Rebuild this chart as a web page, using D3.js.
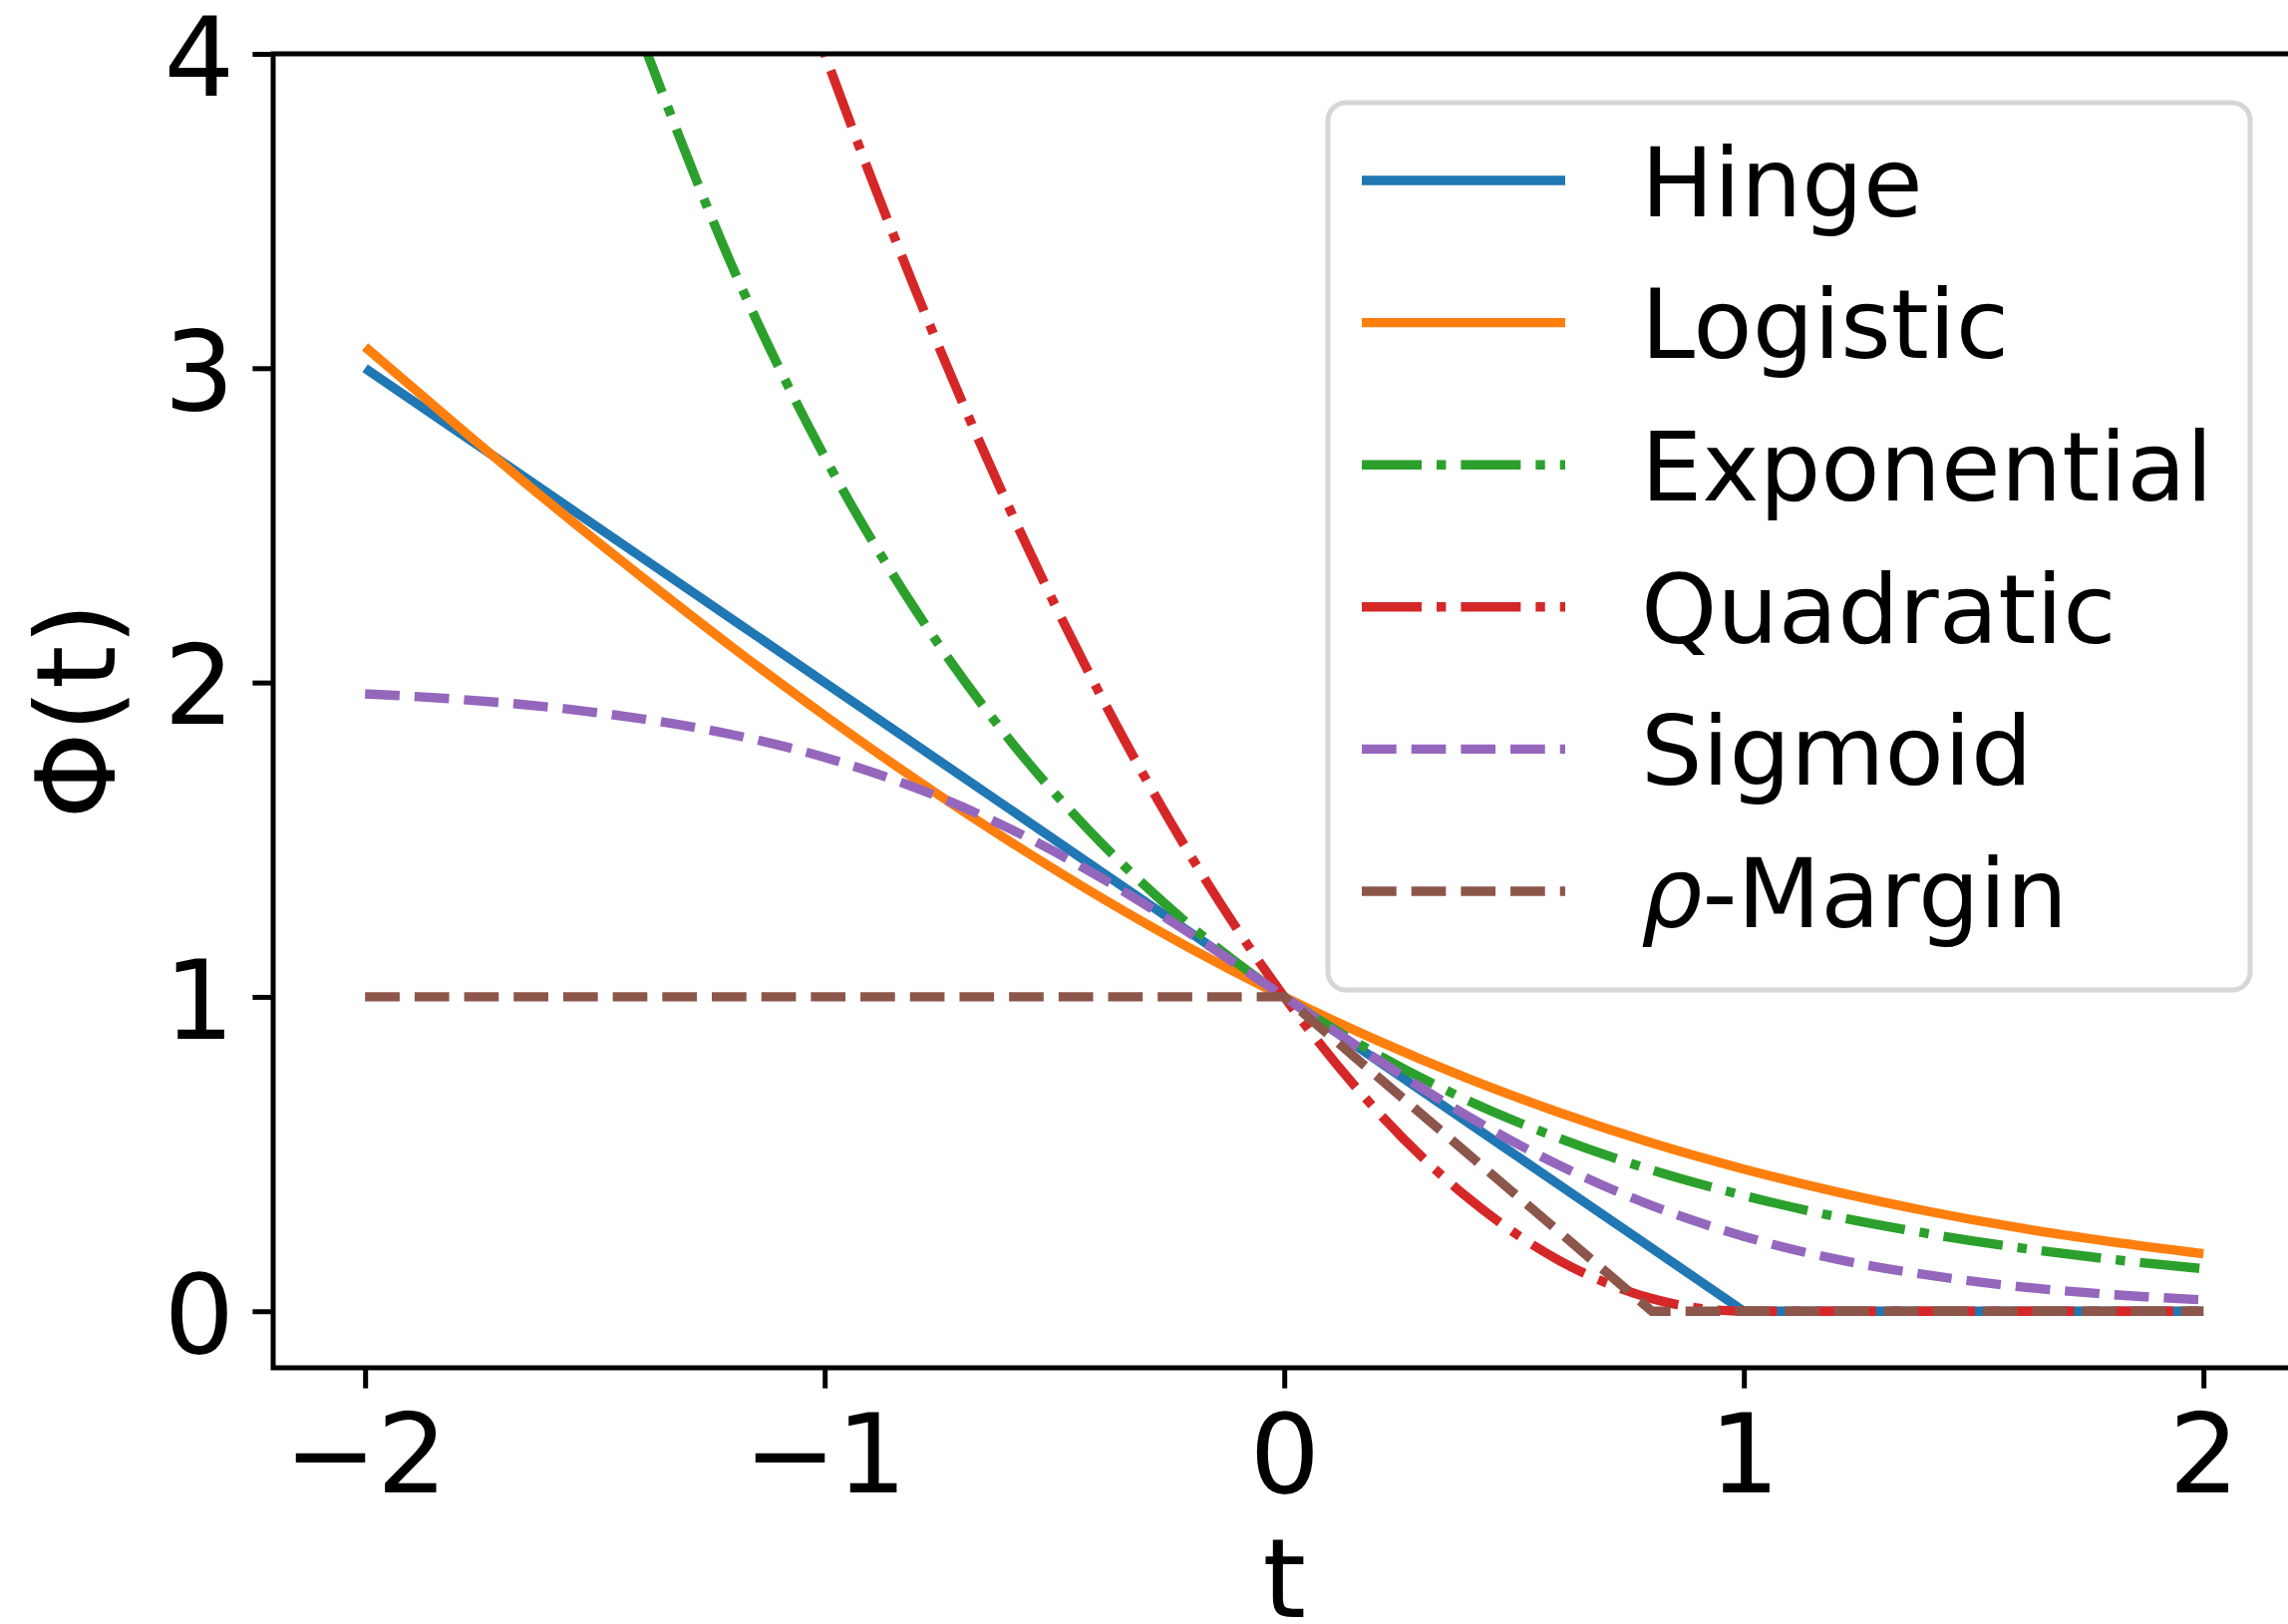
<!DOCTYPE html>
<html>
<head>
<meta charset="utf-8">
<script src="https://cdn.jsdelivr.net/npm/d3@7"></script>
<style>
	body { margin: 0; background: #fff; overflow: hidden; }
	svg { display: block; font-family: "DejaVu Sans", sans-serif; }
</style>
</head>
<body>
<svg width="2295" height="1629"></svg>
<script>
var tValues = [-2, -1.8, -1.6, -1.4, -1.2, -1, -0.8, -0.6, -0.4, -0.2, 0, 0.2, 0.4, 0.6, 0.8, 1, 1.2, 1.4, 1.6, 1.8, 2];

var hinge = [3, 2.8, 2.6, 2.4, 2.2, 2, 1.8, 1.6, 1.4, 1.2, 1, 0.8, 0.6, 0.4, 0.2, 0, 0, 0, 0, 0, 0];
var logistic = [3.068, 2.818, 2.573, 2.338, 2.111, 1.895, 1.690, 1.497, 1.317, 1.151, 1, 0.863, 0.740, 0.631, 0.535, 0.452, 0.380, 0.318, 0.265, 0.221, 0.183];
var exponential = [null, null, null, 4.055, 3.320, 2.718, 2.226, 1.822, 1.492, 1.221, 1, 0.819, 0.670, 0.549, 0.449, 0.368, 0.301, 0.247, 0.202, 0.165, 0.135];
var quadratic = [null, null, null, null, 4.84, 4, 3.24, 2.56, 1.96, 1.44, 1, 0.64, 0.36, 0.16, 0.04, 0, 0, 0, 0, 0, 0];
var sigmoid = [1.964, 1.947, 1.922, 1.885, 1.834, 1.762, 1.664, 1.537, 1.380, 1.197, 1, 0.803, 0.620, 0.463, 0.336, 0.238, 0.166, 0.115, 0.078, 0.053, 0.036];
var rhoMargin = [1, 1, 1, 1, 1, 1, 1, 1, 1, 1, 1, 0.75, 0.5, 0.25, 0, 0, 0, 0, 0, 0, 0];

var seriesNames = ["Hinge", "Logistic", "Exponential", "Quadratic", "Sigmoid", "-Margin"];
var xTicks = [-2, -1, 0, 1, 2];
var yTicks = [0, 1, 2, 3, 4];

(function() {
	var svg = d3.select("svg");

	var pt = 6.25; // px per point in the saved figure
	var lw = 1.5 * pt;

	var left = 274, top = 54, bottom = 1372;

	var x = d3.scaleLinear().domain([-2.2, 2.2]).range([left, left + 4.4 * 461]);
	var y = d3.scaleLinear().domain([-0.18, 4]).range([bottom, top]);
	var right = x.range()[1];

	var dashed = [3.7 * lw, 1.6 * lw].join(",");
	var dashdot = [6.4 * lw, 1.6 * lw, 1 * lw, 1.6 * lw].join(",");

	var series = [
		{ name: seriesNames[0], values: hinge, color: "#1f77b4", dash: null, curve: d3.curveLinear },
		{ name: seriesNames[1], values: logistic, color: "#ff7f0e", dash: null, curve: d3.curveMonotoneX },
		{ name: seriesNames[2], values: exponential, color: "#2ca02c", dash: dashdot, curve: d3.curveMonotoneX },
		{ name: seriesNames[3], values: quadratic, color: "#d62728", dash: dashdot, curve: d3.curveMonotoneX },
		{ name: seriesNames[4], values: sigmoid, color: "#9467bd", dash: dashed, curve: d3.curveMonotoneX },
		{ name: seriesNames[5], values: rhoMargin, color: "#8c564b", dash: dashed, curve: d3.curveLinear }
	];

	svg.append("defs").append("clipPath")
		.attr("id", "plot-area")
		.append("rect")
		.attr("x", left)
		.attr("y", top)
		.attr("width", right - left)
		.attr("height", bottom - top);

	var plot = svg.append("g").attr("clip-path", "url(#plot-area)");

	plot.selectAll("path.series")
		.data(series)
		.enter().append("path")
		.attr("class", "series")
		.attr("fill", "none")
		.attr("stroke", function(d) { return d.color; })
		.attr("stroke-width", lw)
		.attr("stroke-dasharray", function(d) { return d.dash; })
		.attr("d", function(d) {
			var pts = tValues.map(function(t, i) { return [t, d.values[i]]; })
				.filter(function(p) { return p[1] != null; });
			return d3.line()
				.x(function(p) { return x(p[0]); })
				.y(function(p) { return y(p[1]); })
				.curve(d.curve)(pts);
		});

	// axes
	var tickLen = 3.3 * pt;
	var fmt = d3.format("d");
	var xAxis = svg.append("g")
		.attr("transform", "translate(0," + bottom + ")")
		.call(d3.axisBottom(x).tickValues(xTicks).tickFormat(fmt).tickSize(tickLen).tickPadding(0));
	xAxis.select(".domain").remove();
	xAxis.selectAll(".tick line").attr("stroke", "#000").attr("stroke-width", 0.8 * pt);
	xAxis.selectAll(".tick text")
		.attr("y", 125)
		.attr("dy", null)
		.attr("fill", "#000")
		.style("font-size", "111px")
		.style("font-family", "DejaVu Sans");

	var yAxis = svg.append("g")
		.attr("transform", "translate(" + left + ",0)")
		.call(d3.axisLeft(y).tickValues(yTicks).tickFormat(fmt).tickSize(tickLen).tickPadding(0));
	yAxis.select(".domain").remove();
	yAxis.selectAll(".tick line").attr("stroke", "#000").attr("stroke-width", 0.8 * pt);
	yAxis.selectAll(".tick text")
		.attr("x", -39)
		.attr("dy", "0.37em")
		.attr("fill", "#000")
		.style("font-size", "111px")
		.style("font-family", "DejaVu Sans");

	// spines
	svg.append("rect")
		.attr("x", left)
		.attr("y", top)
		.attr("width", right - left)
		.attr("height", bottom - top)
		.attr("fill", "none")
		.attr("stroke", "#000")
		.attr("stroke-width", 0.8 * pt);

	svg.append("text")
		.attr("x", x(0))
		.attr("y", 1622)
		.attr("text-anchor", "middle")
		.style("font-size", "111px")
		.text("t");

	svg.append("text")
		.attr("transform", "translate(115," + ((top + bottom) / 2) + ") rotate(-90)")
		.attr("text-anchor", "middle")
		.style("font-size", "111px")
		.text("\u03a6(t)");

	// legend
	var legend = svg.append("g");
	legend.append("rect")
		.attr("x", 1332)
		.attr("y", 103)
		.attr("width", 925)
		.attr("height", 890)
		.attr("rx", 18)
		.attr("fill", "#fff")
		.attr("fill-opacity", 0.8)
		.attr("stroke", "#d6d6d6")
		.attr("stroke-width", 0.8 * pt);

	var rowY = d3.scaleLinear().domain([0, 5]).range([181, 894]);
	var row = legend.selectAll("g.row")
		.data(series)
		.enter().append("g")
		.attr("class", "row")
		.attr("transform", function(d, i) { return "translate(0," + rowY(i) + ")"; });

	row.append("line")
		.attr("x1", 1366)
		.attr("x2", 1570)
		.attr("stroke", function(d) { return d.color; })
		.attr("stroke-width", lw)
		.attr("stroke-dasharray", function(d) { return d.dash; });

	var label = row.append("text")
		.attr("x", 1646)
		.attr("dy", "0.37em")
		.style("font-size", "97px");
	label.filter(function(d, i) { return i == 5; })
		.append("tspan")
		.style("font-style", "italic")
		.text("\u03c1");
	label.append("tspan")
		.text(function(d) { return d.name; });
})();
</script>
</body>
</html>
